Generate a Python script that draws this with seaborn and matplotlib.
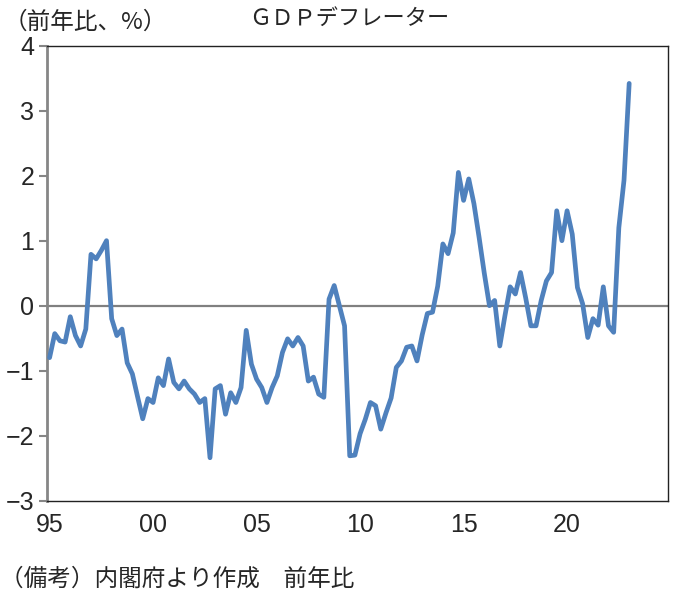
import numpy as np
import pandas as pd
import matplotlib
matplotlib.use("Agg")
import matplotlib.pyplot as plt
import seaborn as sns

# GDP deflator, YoY %, quarterly from 1995Q1 to 2023Q1
deflator_yoy = [
    -0.80, -0.43, -0.54, -0.56, -0.17, -0.46, -0.62, -0.36,   # 95-96
    0.79, 0.72, 0.85, 1.00, -0.20, -0.46, -0.36, -0.88,       # 97-98
    -1.05, -1.40, -1.74, -1.43, -1.49, -1.11, -1.23, -0.82,   # 99-00
    -1.18, -1.28, -1.16, -1.28, -1.36, -1.49, -1.43, -2.34,   # 01-02
    -1.28, -1.23, -1.67, -1.34, -1.49, -1.26, -0.38, -0.90,   # 03-04
    -1.13, -1.26, -1.49, -1.26, -1.08, -0.72, -0.51, -0.62,   # 05-06
    -0.49, -0.62, -1.16, -1.10, -1.36, -1.41, 0.10, 0.31,     # 07-08
    0.00, -0.31, -2.31, -2.30, -1.97, -1.75, -1.49, -1.54,    # 09-10
    -1.90, -1.65, -1.42, -0.95, -0.85, -0.64, -0.62, -0.85,   # 11-12
    -0.45, -0.12, -0.10, 0.30, 0.95, 0.80, 1.12, 2.05,        # 13-14
    1.62, 1.95, 1.57, 1.05, 0.50, 0.00, 0.08, -0.62,          # 15-16
    -0.15, 0.29, 0.18, 0.51, 0.12, -0.31, -0.31, 0.08,        # 17-18
    0.38, 0.51, 1.46, 1.00, 1.46, 1.10, 0.28, 0.03,           # 19-20
    -0.49, -0.20, -0.30, 0.29, -0.31, -0.41, 1.20, 1.93,      # 21-22
    3.42,                                                     # 23
]
year_labels = ["95", "00", "05", "10", "15", "20"]
y_ticks = [-3, -2, -1, 0, 1, 2, 3, 4]

df = pd.DataFrame({"q": np.arange(len(deflator_yoy)), "yoy": deflator_yoy})

sns.set_style("white")
jp = ["Noto Sans CJK JP", "DejaVu Sans"]
num_font = ["Liberation Sans Narrow", "Liberation Sans", "DejaVu Sans"]
plt.rcParams["font.family"] = jp

fig = plt.figure(figsize=(6.84, 5.96), dpi=100)
ax = fig.add_axes([0.0687, 0.160, 0.9079, 0.7633])

ax.axhline(0, color="#808080", lw=1.6, zorder=1)
sns.lineplot(data=df, x="q", y="yoy", ax=ax, color="#4F81BD", lw=3.4, zorder=3)

ax.set_xlim(-0.5, 119.5)
ax.set_ylim(-3, 4)
ax.set_xticks([i * 20 for i in range(len(year_labels))])
ax.set_xticklabels(year_labels)
ax.set_yticks(y_ticks)
ax.set_yticklabels([f"{v}".replace("-", "\u2212") for v in y_ticks])
for lab in ax.get_xticklabels() + ax.get_yticklabels():
    lab.set_family(num_font)
    lab.set_fontsize(18)
ax.set_xlabel("")
ax.set_ylabel("")

ax.tick_params(axis="x", length=0, pad=9)
ax.tick_params(axis="y", length=6, width=1.5, color="#868686", pad=3, direction="out", left=True)
ax.spines["left"].set_color("#868686")
ax.spines["left"].set_linewidth(2)
for s in ["top", "right", "bottom"]:
    ax.spines[s].set_color("#222222")
    ax.spines[s].set_linewidth(1.0)

fig.text(0.51, 0.97, "ＧＤＰデフレーター", ha="center", va="center", fontsize=16)
fig.text(0.005, 0.963, "（前年比、%）", ha="left", va="center", fontsize=17)
fig.text(0.0, 0.028, "（備考）内閣府より作成　前年比", ha="left", va="center", fontsize=17)

fig.savefig("out.png", dpi=100)
